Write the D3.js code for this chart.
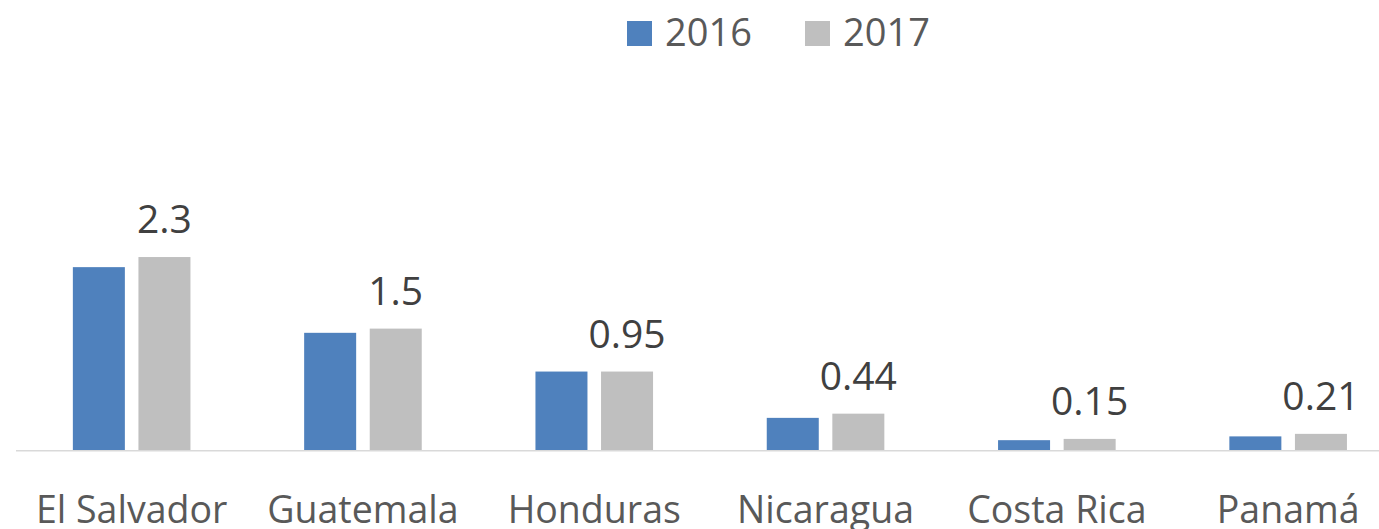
<!DOCTYPE html>
<html>
<head>
<meta charset="utf-8">
<script src="https://cdn.jsdelivr.net/npm/d3@7"></script>
<style>
  body { margin: 0; background: #fff; }
  svg { display: block; font-family: "Open Sans", "Noto Sans", sans-serif; }
</style>
</head>
<body>
<div id="chart"></div>
<script>
// data
var categories = ["El Salvador", "Guatemala", "Honduras", "Nicaragua", "Costa Rica", "Panamá"];
var seriesNames = ["2016", "2017"];
var values2016 = [2.18, 1.40, 0.94, 0.39, 0.125, 0.17];
var values2017 = [2.3, 1.45, 0.94, 0.44, 0.14, 0.2];
var labels2017 = ["2.3", "1.5", "0.95", "0.44", "0.15", "0.21"];

var colors = { "2016": "#4f81bd", "2017": "#bfbfbf" };

var width = 1379, height = 529;
var baseY = 450.7;

var svg = d3.select('#chart').append('svg')
    .attr('width', width)
    .attr('height', height);

// plot runs a bit past the right edge, like the original crop
var x0 = d3.scaleBand()
    .domain(categories)
    .range([16, 16 + 6 * 231.3])
    .paddingInner(0.4916)
    .paddingOuter(0.2458);

var x1 = d3.scaleBand()
    .domain(seriesNames)
    .range([0, x0.bandwidth()])
    .paddingInner(0.207);

var y = d3.scaleLinear()
    .domain([0, 2.4])
    .range([baseY, baseY - 2.4 * 84.2]);

var rows = categories.map(function(c, i) {
    return { cat: c, vals: [
        { s: "2016", v: values2016[i] },
        { s: "2017", v: values2017[i], label: labels2017[i] }
    ] };
});

var groups = svg.append('g').selectAll('g')
    .data(rows)
    .enter()
    .append('g')
        .attr('transform', function(d) { return `translate(${x0(d.cat)}, 0)`; });

groups.selectAll('rect')
    .data(function(d) { return d.vals; })
    .enter()
    .append('rect')
        .attr('x', function(d) { return x1(d.s); })
        .attr('y', function(d) { return y(d.v); })
        .attr('width', x1.bandwidth())
        .attr('height', function(d) { return y(0) - y(d.v); })
        .attr('fill', function(d) { return colors[d.s]; });

// data labels only on 2017
groups.selectAll('text.lbl')
    .data(function(d) { return d.vals.filter(function(v) { return v.label; }); })
    .enter()
    .append('text')
        .attr('class', 'lbl')
        .attr('x', function(d) { return x1(d.s) + x1.bandwidth() / 2; })
        .attr('y', function(d) { return y(d.v) - 24; })
        .attr('text-anchor', 'middle')
        .attr('font-size', 39)
        .attr('fill', '#404040')
        .text(function(d) { return d.label; });

// axis baseline + category labels
var xAxis = d3.axisBottom(x0).tickSize(0).tickPadding(0);
var axisG = svg.append('g')
    .attr('transform', `translate(0, ${baseY})`)
    .call(xAxis);
axisG.select('.domain')
    .attr('d', `M16,0H${width}`)
    .attr('stroke', '#d9d9d9')
    .attr('stroke-width', 1.5);
axisG.selectAll('.tick text')
    .attr('y', 72.6)
    .attr('dy', null)
    .attr('font-size', 37.5)
    .attr('font-family', '"Open Sans", "Noto Sans", sans-serif')
    .attr('fill', '#595959');

// legend
var legend = svg.append('g').selectAll('g')
    .data(seriesNames)
    .enter()
    .append('g')
        .attr('transform', function(d, i) { return `translate(${627 + i * 178}, 0)`; });

legend.append('rect')
    .attr('x', 0)
    .attr('y', 21)
    .attr('width', 25)
    .attr('height', 25)
    .attr('fill', function(d) { return colors[d]; });

legend.append('text')
    .attr('x', 38)
    .attr('y', 45.7)
    .attr('font-size', 38)
    .attr('fill', '#595959')
    .text(function(d) { return d; });
</script>
</body>
</html>
